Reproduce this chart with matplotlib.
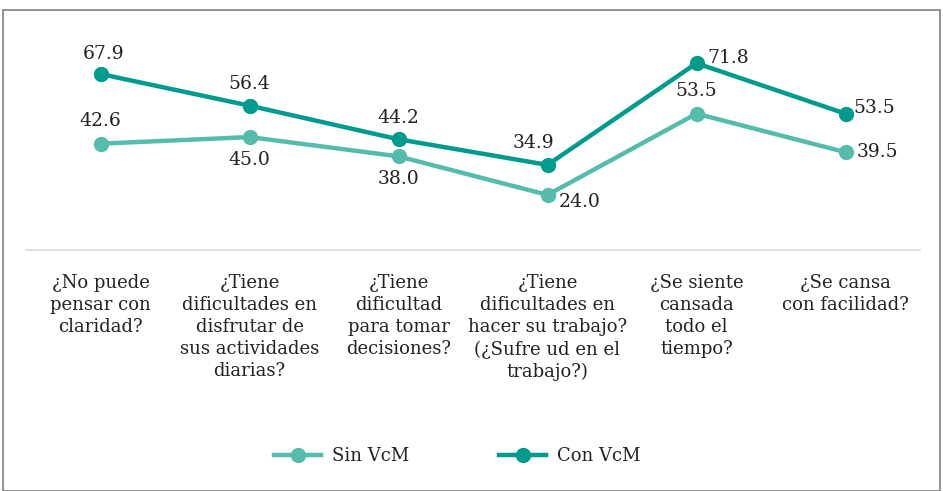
import matplotlib.pyplot as plt
from matplotlib.patches import Rectangle

plt.rcParams['font.family'] = ['DejaVu Serif']

categorias = ["¿No puede\npensar con\nclaridad?",
              "¿Tiene\ndificultades en\ndisfrutar de\nsus actividades\ndiarias?",
              "¿Tiene\ndificultad\npara tomar\ndecisiones?",
              "¿Tiene\ndificultades en\nhacer su trabajo?\n(¿Sufre ud en el\ntrabajo?)",
              "¿Se siente\ncansada\ntodo el\ntiempo?",
              "¿Se cansa\ncon facilidad?"]
sin_vcm = [42.6, 45.0, 38.0, 24.0, 53.5, 39.5]
con_vcm = [67.9, 56.4, 44.2, 34.9, 71.8, 53.5]

c_sin = "#55bcab"
c_con = "#009b8d"

W, H = 943, 491
fig = plt.figure(figsize=(W / 100, H / 100), dpi=100)
ax = fig.add_axes([26 / W, 1 - 250 / H, 894 / W, 230 / H])

x = range(len(categorias))
ax.plot(x, sin_vcm, color=c_sin, lw=3.2, marker="o", ms=10, label="Sin VcM")
ax.plot(x, con_vcm, color=c_con, lw=3.2, marker="o", ms=10, label="Con VcM")

# posiciones de las etiquetas (offset en puntos)
off_sin = [(0, 10, "center", "bottom"), (0, -10, "center", "top"),
           (0, -10, "center", "top"), (8, -5, "left", "center"),
           (0, 10, "center", "bottom"), (8, 0, "left", "center")]
off_con = [(2, 8, "center", "bottom"), (0, 9, "center", "bottom"),
           (0, 9, "center", "bottom"), (-10, 9, "center", "bottom"),
           (8, 4, "left", "center"), (6, 4, "left", "center")]
for i, v in enumerate(sin_vcm):
    dx, dy, ha, va = off_sin[i]
    ax.annotate(f"{v:.1f}", (i, v), xytext=(dx, dy), textcoords="offset points",
                ha=ha, va=va, fontsize=13.5, color="#222222")
for i, v in enumerate(con_vcm):
    dx, dy, ha, va = off_con[i]
    ax.annotate(f"{v:.1f}", (i, v), xytext=(dx, dy), textcoords="offset points",
                ha=ha, va=va, fontsize=13.5, color="#222222")

ax.set_xlim(-0.5, 5.5)
ax.set_ylim(4, 87.5)
ax.set_yticks([])
ax.set_xticks(list(x))
ax.set_xticklabels(categorias, fontsize=13, color="#222222", linespacing=1.3)
ax.tick_params(axis="x", length=0, pad=17)
for s in ["top", "left", "right"]:
    ax.spines[s].set_visible(False)
ax.spines["bottom"].set_color("#d9d9d9")
ax.spines["bottom"].set_linewidth(1.2)

leg = fig.legend(loc="center", bbox_to_anchor=(0.485, 1 - 456 / H), ncol=2,
                 frameon=False, fontsize=13, handlelength=2.6,
                 columnspacing=5.0, handletextpad=0.6)
for t in leg.get_texts():
    t.set_color("#222222")

fig.patches.append(Rectangle((3 / W, 0), 937 / W, 1 - 10 / H, transform=fig.transFigure,
                             fill=False, edgecolor="#7f7f7f", lw=1.2))

fig.savefig("out.png", dpi=100)
